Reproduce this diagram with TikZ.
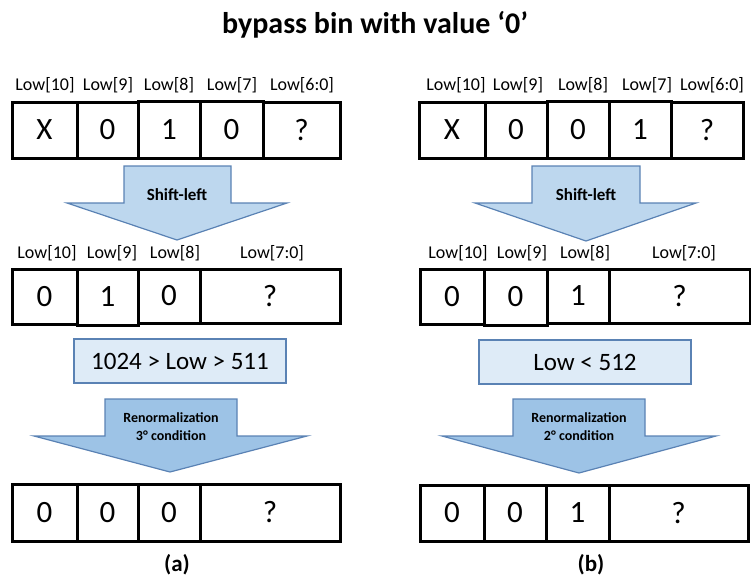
\documentclass[tikz,border=0pt]{standalone}
\usepackage{fontspec}
\setmainfont{Carlito}
\definecolor{shiftfill}{HTML}{BDD7EE}
\definecolor{renfill}{HTML}{9DC3E6}
\definecolor{condfill}{HTML}{DEEBF7}
\definecolor{blueline}{HTML}{5A82B4}
\tikzset{
  cell/.style={draw=black, line width=3pt, inner sep=0pt, font=\fontsize{31}{33}\selectfont},
  lbl/.style={inner sep=0pt, font=\fontsize{18}{20}\selectfont},
  bigarrow/.style={draw=blueline, line width=1.2pt, line join=miter},
  cond/.style={draw=blueline, line width=1.6pt, fill=condfill, inner sep=0pt,
    font=\fontsize{25}{27}\selectfont},
  arrowtext/.style={inner sep=0pt, align=center, font=\bfseries\fontsize{17}{19}\selectfont},
  rentext/.style={inner sep=0pt, align=center, font=\bfseries\fontsize{14}{18}\selectfont},
  caption/.style={inner sep=0pt, font=\bfseries\fontsize{23}{25}\selectfont},
}
% one register cell: name, left, right, top, bottom, content
\newcommand{\regcell}[6]{%
  \node[cell, minimum width={#3-#2}, minimum height={#5-#4}]
    (#1) at ({(#2+#3)/2},{(#4+#5)/2}) {#6};}
\begin{document}
\begin{tikzpicture}[x=1pt,y=-1pt]
\useasboundingbox (0,0) rectangle (751,578);

\node[inner sep=0pt, font=\bfseries\fontsize{30}{32}\selectfont] (title) at (375,25) {bypass bin with value ‘0’};

% ---------------- left column (a) ----------------
\node[lbl] (la1) at (45,85) {Low[10]};
\node[lbl] (la2) at (108,85) {Low[9]};
\node[lbl] (la3) at (169,85) {Low[8]};
\node[lbl] (la4) at (232,85) {Low[7]};
\node[lbl] (la5) at (302,85) {Low[6:0]};
\regcell{a11}{12}{77}{102}{158}{X}
\regcell{a12}{77}{138}{102}{158}{0}
\regcell{a13}{138}{200}{101}{158}{1}
\regcell{a14}{200}{263}{101}{158}{0}
\regcell{a15}{263}{340}{102}{158}{?}

\draw[bigarrow, fill=shiftfill] (124,166) -- (231,166) -- (231,203) -- (287,203)
  -- (177,240) -- (67,203) -- (124,203) -- cycle;
\node[arrowtext] (sa) at (177,195) {Shift-left};

\node[lbl] (lb1) at (47,253) {Low[10]};
\node[lbl] (lb2) at (112,253) {Low[9]};
\node[lbl] (lb3) at (175,253) {Low[8]};
\node[lbl] (lb4) at (272,253) {Low[7:0]};
\regcell{a21}{12}{77}{269}{324}{0}
\regcell{a22}{77}{138}{269}{325}{1}
\regcell{a23}{138}{200}{269}{323}{0}
\regcell{a24}{200}{340}{269}{323}{?}

\node[cond, minimum width=212, minimum height=44] (ca) at (180,361) {1024 > Low > 511};

\draw[bigarrow, fill=renfill] (105,399) -- (237,399) -- (237,436) -- (307,436)
  -- (170,472) -- (34,436) -- (105,436) -- cycle;
\node[rentext] (ra) at (171,427) {Renormalization\\3° condition};

\regcell{a31}{12}{77}{484}{541}{0}
\regcell{a32}{77}{138}{484}{541}{0}
\regcell{a33}{138}{200}{484}{541}{0}
\regcell{a34}{200}{340}{484}{541}{?}
\node[caption] (capa) at (177,565) {(a)};

% ---------------- right column (b) ----------------
\node[lbl] (lc1) at (456,85) {Low[10]};
\node[lbl] (lc2) at (518,85) {Low[9]};
\node[lbl] (lc3) at (583,85) {Low[8]};
\node[lbl] (lc4) at (647,85) {Low[7]};
\node[lbl] (lc5) at (712,85) {Low[6:0]};
\regcell{b11}{419}{485}{102}{158}{X}
\regcell{b12}{485}{547}{102}{158}{0}
\regcell{b13}{547}{609}{101}{158}{0}
\regcell{b14}{609}{671}{101}{158}{1}
\regcell{b15}{671}{743}{102}{158}{?}

\draw[bigarrow, fill=shiftfill] (532,166) -- (640,166) -- (640,203) -- (696,203)
  -- (586,241) -- (475,203) -- (532,203) -- cycle;
\node[arrowtext] (sb) at (586,195) {Shift-left};

\node[lbl] (ld1) at (458,253) {Low[10]};
\node[lbl] (ld2) at (522,253) {Low[9]};
\node[lbl] (ld3) at (585,253) {Low[8]};
\node[lbl] (ld4) at (684,253) {Low[7:0]};
\regcell{b21}{420}{484}{269}{324}{0}
\regcell{b22}{484}{547}{269}{325}{0}
\regcell{b23}{547}{609}{269}{323}{1}
\regcell{b24}{609}{750}{269}{323}{?}

\node[cond, minimum width=212, minimum height=44] (cb) at (585,362) {Low < 512};

\draw[bigarrow, fill=renfill] (513,399) -- (645,399) -- (645,436) -- (716,436)
  -- (579,473) -- (442,436) -- (513,436) -- cycle;
\node[rentext] (rb) at (579,427) {Renormalization\\2° condition};

\regcell{b31}{420}{484}{485}{541}{0}
\regcell{b32}{484}{546}{485}{541}{0}
\regcell{b33}{546}{609}{485}{541}{1}
\regcell{b34}{609}{748}{485}{541}{?}
\node[caption] (capb) at (591,565) {(b)};
\end{tikzpicture}
\end{document}
